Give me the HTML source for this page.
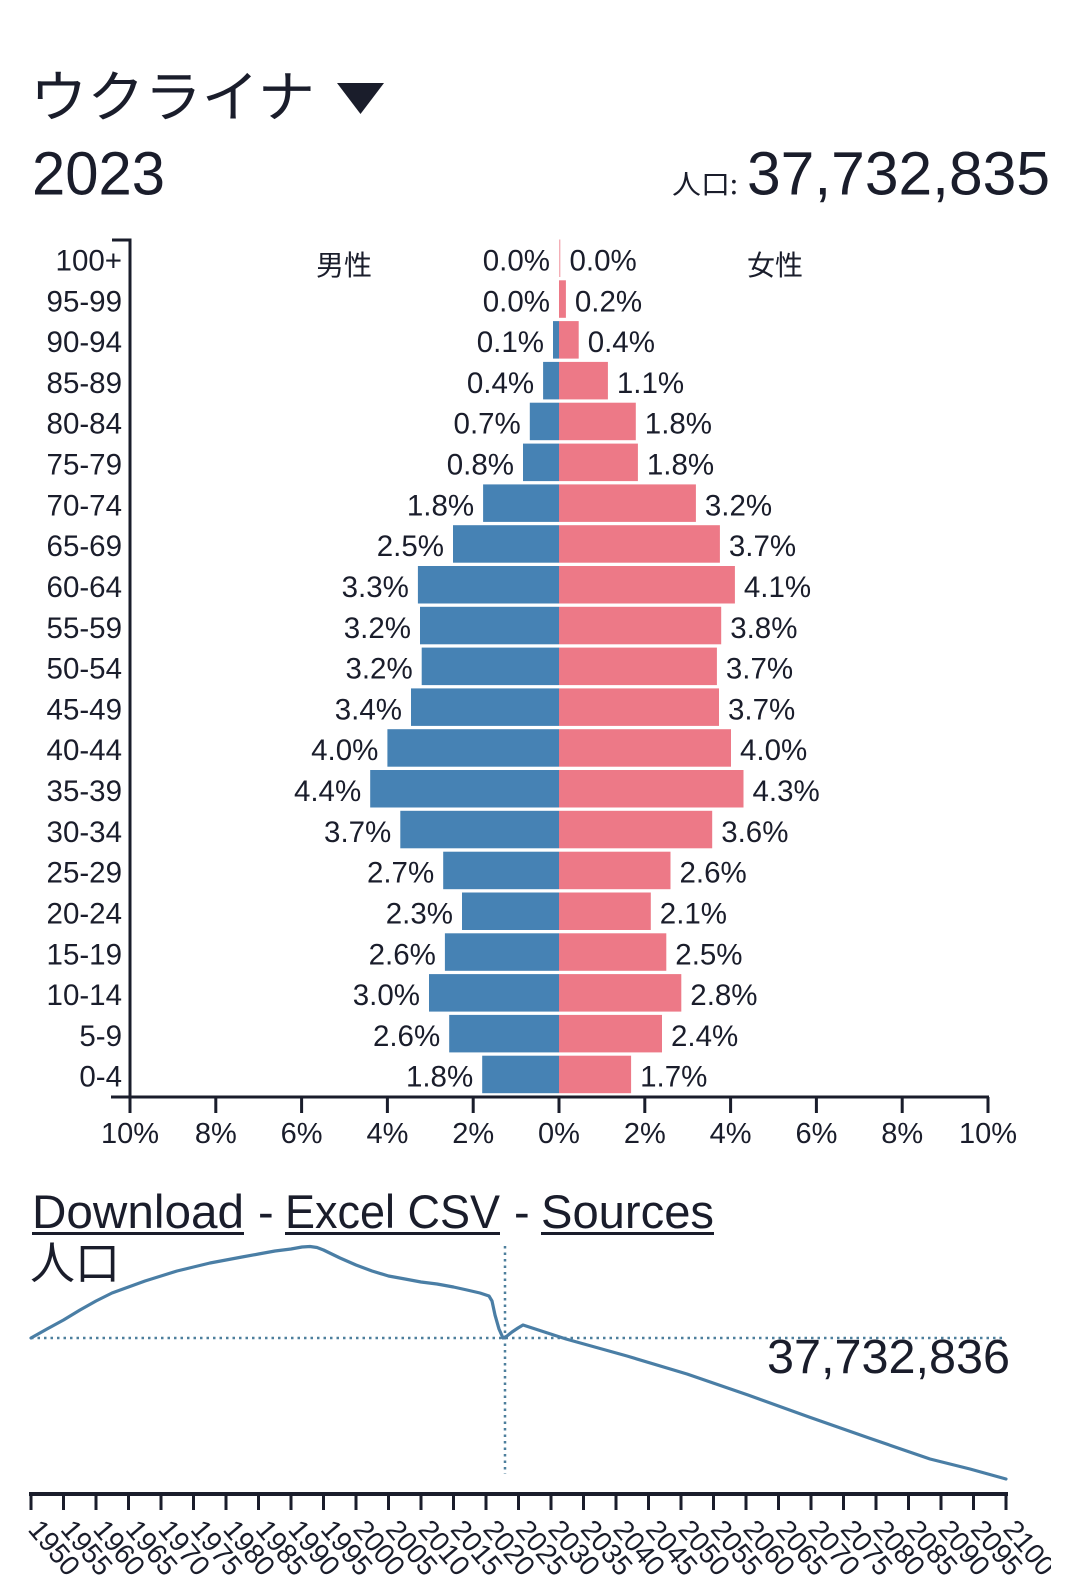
<!DOCTYPE html>
<html>
<head>
<meta charset="utf-8">
<style>
  html,body{margin:0;padding:0;background:#ffffff;}
  svg{display:block;}
  .t{font-family:"Liberation Sans","Noto Sans CJK JP",sans-serif;fill:#1a1d2b;}
  .j{font-family:"Noto Sans CJK JP","Liberation Sans",sans-serif;fill:#1a1d2b;}
</style>
</head>
<body>
<svg width="1080" height="1585" viewBox="0 0 1080 1585" xmlns="http://www.w3.org/2000/svg">
  <defs>
    <clipPath id="yc"><rect x="0" y="1500" width="1051" height="85"/></clipPath>
  </defs>
  <rect x="0" y="0" width="1080" height="1585" fill="#ffffff"/>

  <!-- Header -->
  <text class="j" x="30" y="117" font-size="56" textLength="285" lengthAdjust="spacingAndGlyphs">ウクライナ</text>
  <polygon points="337,83 384,83 360.5,114" fill="#1a1d2b"/>
  <text class="t" x="32" y="194.5" font-size="61" textLength="133" lengthAdjust="spacingAndGlyphs">2023</text>
  <text class="j" x="672" y="194" font-size="27" textLength="66" lengthAdjust="spacingAndGlyphs">人口:</text>
  <text class="t" x="747" y="194.5" font-size="61" textLength="303" lengthAdjust="spacingAndGlyphs">37,732,835</text>

  <!-- Pyramid bars: male -->
  <g fill="#4682b4">
    <rect x="553.0" y="321.1" width="6.0" height="37.5"/>
    <rect x="543.1" y="361.9" width="15.9" height="37.5"/>
    <rect x="529.8" y="402.7" width="29.2" height="37.5"/>
    <rect x="523.0" y="443.6" width="36.0" height="37.5"/>
    <rect x="483.1" y="484.4" width="75.9" height="37.5"/>
    <rect x="453.0" y="525.2" width="106.0" height="37.5"/>
    <rect x="417.9" y="566.0" width="141.1" height="37.5"/>
    <rect x="420.0" y="606.8" width="139.0" height="37.5"/>
    <rect x="421.7" y="647.6" width="137.3" height="37.5"/>
    <rect x="411.0" y="688.4" width="148.0" height="37.5"/>
    <rect x="387.4" y="729.2" width="171.6" height="37.5"/>
    <rect x="370.2" y="770.0" width="188.8" height="37.5"/>
    <rect x="400.3" y="810.8" width="158.7" height="37.5"/>
    <rect x="443.2" y="851.7" width="115.8" height="37.5"/>
    <rect x="462.0" y="892.5" width="97.0" height="37.5"/>
    <rect x="444.9" y="933.3" width="114.1" height="37.5"/>
    <rect x="429.0" y="974.1" width="130.0" height="37.5"/>
    <rect x="449.2" y="1014.9" width="109.8" height="37.5"/>
    <rect x="482.2" y="1055.7" width="76.8" height="37.5"/>
  </g>
  <!-- Pyramid bars: female -->
  <g fill="#ed7987">
    <rect x="559" y="239.5" width="1.4" height="37.5" opacity="0.6"/>
    <rect x="559" y="280.3" width="6.9" height="37.5"/>
    <rect x="559" y="321.1" width="19.7" height="37.5"/>
    <rect x="559" y="361.9" width="48.9" height="37.5"/>
    <rect x="559" y="402.7" width="76.8" height="37.5"/>
    <rect x="559" y="443.6" width="78.9" height="37.5"/>
    <rect x="559" y="484.4" width="136.9" height="37.5"/>
    <rect x="559" y="525.2" width="160.9" height="37.5"/>
    <rect x="559" y="566.0" width="175.9" height="37.5"/>
    <rect x="559" y="606.8" width="162.2" height="37.5"/>
    <rect x="559" y="647.6" width="157.9" height="37.5"/>
    <rect x="559" y="688.4" width="160.0" height="37.5"/>
    <rect x="559" y="729.2" width="172.0" height="37.5"/>
    <rect x="559" y="770.0" width="184.5" height="37.5"/>
    <rect x="559" y="810.8" width="153.2" height="37.5"/>
    <rect x="559" y="851.7" width="111.5" height="37.5"/>
    <rect x="559" y="892.5" width="91.8" height="37.5"/>
    <rect x="559" y="933.3" width="107.3" height="37.5"/>
    <rect x="559" y="974.1" width="122.3" height="37.5"/>
    <rect x="559" y="1014.9" width="103.0" height="37.5"/>
    <rect x="559" y="1055.7" width="72.1" height="37.5"/>
  </g>

  <!-- Male / Female headings -->
  <text class="j" x="316" y="275" font-size="28">男性</text>
  <text class="j" x="747" y="275" font-size="28">女性</text>

  <!-- Male value labels -->
  <g class="t" font-size="29.5" text-anchor="end">
    <text x="550" y="270.5">0.0%</text>
    <text x="550" y="311.3">0.0%</text>
    <text x="544" y="352.1">0.1%</text>
    <text x="534.1" y="392.9">0.4%</text>
    <text x="520.8" y="433.7">0.7%</text>
    <text x="514" y="474.6">0.8%</text>
    <text x="474.1" y="515.4">1.8%</text>
    <text x="444" y="556.2">2.5%</text>
    <text x="408.9" y="597.0">3.3%</text>
    <text x="411" y="637.8">3.2%</text>
    <text x="412.7" y="678.6">3.2%</text>
    <text x="402" y="719.4">3.4%</text>
    <text x="378.4" y="760.2">4.0%</text>
    <text x="361.2" y="801.0">4.4%</text>
    <text x="391.3" y="841.8">3.7%</text>
    <text x="434.2" y="882.7">2.7%</text>
    <text x="453" y="923.5">2.3%</text>
    <text x="435.9" y="964.3">2.6%</text>
    <text x="420" y="1005.1">3.0%</text>
    <text x="440.2" y="1045.9">2.6%</text>
    <text x="473.2" y="1086.7">1.8%</text>
  </g>
  <!-- Female value labels -->
  <g class="t" font-size="29.5" text-anchor="start">
    <text x="569.5" y="270.5">0.0%</text>
    <text x="574.9" y="311.3">0.2%</text>
    <text x="587.7" y="352.1">0.4%</text>
    <text x="616.9" y="392.9">1.1%</text>
    <text x="644.8" y="433.7">1.8%</text>
    <text x="646.9" y="474.6">1.8%</text>
    <text x="704.9" y="515.4">3.2%</text>
    <text x="728.9" y="556.2">3.7%</text>
    <text x="743.9" y="597.0">4.1%</text>
    <text x="730.2" y="637.8">3.8%</text>
    <text x="725.9" y="678.6">3.7%</text>
    <text x="728" y="719.4">3.7%</text>
    <text x="740" y="760.2">4.0%</text>
    <text x="752.5" y="801.0">4.3%</text>
    <text x="721.2" y="841.8">3.6%</text>
    <text x="679.5" y="882.7">2.6%</text>
    <text x="659.8" y="923.5">2.1%</text>
    <text x="675.3" y="964.3">2.5%</text>
    <text x="690.3" y="1005.1">2.8%</text>
    <text x="671" y="1045.9">2.4%</text>
    <text x="640.1" y="1086.7">1.7%</text>
  </g>

  <!-- Age labels -->
  <g class="t" font-size="29.5" text-anchor="end">
    <text x="122" y="270.5">100+</text>
    <text x="122" y="311.3">95-99</text>
    <text x="122" y="352.1">90-94</text>
    <text x="122" y="392.9">85-89</text>
    <text x="122" y="433.7">80-84</text>
    <text x="122" y="474.6">75-79</text>
    <text x="122" y="515.4">70-74</text>
    <text x="122" y="556.2">65-69</text>
    <text x="122" y="597.0">60-64</text>
    <text x="122" y="637.8">55-59</text>
    <text x="122" y="678.6">50-54</text>
    <text x="122" y="719.4">45-49</text>
    <text x="122" y="760.2">40-44</text>
    <text x="122" y="801.0">35-39</text>
    <text x="122" y="841.8">30-34</text>
    <text x="122" y="882.7">25-29</text>
    <text x="122" y="923.5">20-24</text>
    <text x="122" y="964.3">15-19</text>
    <text x="122" y="1005.1">10-14</text>
    <text x="122" y="1045.9">5-9</text>
    <text x="122" y="1086.7">0-4</text>
  </g>

  <!-- Pyramid axes -->
  <g stroke="#1a1d2b" stroke-width="3" fill="none">
    <path d="M112,240 H130 V1097"/>
    <path d="M111,1097 H989"/>
    <path d="M130,1097 V1113 M215.8,1097 V1113 M301.6,1097 V1113 M387.4,1097 V1113 M473.2,1097 V1113 M559,1097 V1113 M644.8,1097 V1113 M730.6,1097 V1113 M816.4,1097 V1113 M902.2,1097 V1113 M988,1097 V1113"/>
  </g>
  <g class="t" font-size="29" text-anchor="middle">
    <text x="130" y="1143">10%</text>
    <text x="215.8" y="1143">8%</text>
    <text x="301.6" y="1143">6%</text>
    <text x="387.4" y="1143">4%</text>
    <text x="473.2" y="1143">2%</text>
    <text x="559" y="1143">0%</text>
    <text x="644.8" y="1143">2%</text>
    <text x="730.6" y="1143">4%</text>
    <text x="816.4" y="1143">6%</text>
    <text x="902.2" y="1143">8%</text>
    <text x="988" y="1143">10%</text>
  </g>

  <!-- Links -->
  <g class="t" font-size="47">
    <text x="32" y="1228" textLength="212" lengthAdjust="spacingAndGlyphs">Download</text>
    <text x="258" y="1228">-</text>
    <text x="285" y="1228" textLength="215" lengthAdjust="spacingAndGlyphs">Excel CSV</text>
    <text x="514" y="1228">-</text>
    <text x="541" y="1228" textLength="173" lengthAdjust="spacingAndGlyphs">Sources</text>
  </g>
  <g fill="#1a1d2b">
    <rect x="32" y="1232" width="212" height="3"/>
    <rect x="285" y="1232" width="215" height="3"/>
    <rect x="541" y="1232" width="173" height="3"/>
  </g>

  <!-- Population line chart -->
  <text class="j" x="30" y="1279" font-size="45">人口</text>

  <g stroke="#4d7f9c" stroke-width="2.5" stroke-dasharray="2.5,4" fill="none">
    <line x1="31" y1="1338" x2="1006" y2="1338"/>
    <line x1="505" y1="1246" x2="505" y2="1474"/>
  </g>

  <polyline fill="none" stroke="#4a7ea5" stroke-width="3.2" stroke-linejoin="round" stroke-linecap="round"
    points="31,1338 47,1329 63.5,1320 80,1310 96,1301 112,1293 128.5,1287 145,1281 161,1276 177,1271 193.5,1267 210,1263 226,1260 242,1257 258.5,1254 275,1251 291,1249 302,1247 310,1246.5 317,1247.5 323.5,1250 340,1258 356,1265 372,1271 388.5,1276 405,1279 421,1282 437,1284 453.5,1287 467,1290 480,1293 489,1296 492,1301 495,1315 499,1329 503,1338 507,1336 512,1332 518,1328 523,1325 566,1339 627,1356 687,1374 748,1395 809,1417 869,1438 930,1459 970,1469 1006,1479"/>

  <text class="t" x="1010" y="1373" font-size="48" text-anchor="end" textLength="243" lengthAdjust="spacingAndGlyphs">37,732,836</text>

  <!-- Bottom time axis -->
  <g stroke="#1a1d2b" fill="none">
    <path d="M29,1494 H1008" stroke-width="4"/>
    <path stroke-width="3" d="M31,1494V1510 M63.5,1494V1510 M96,1494V1510 M128.5,1494V1510 M161,1494V1510 M193.5,1494V1510 M226,1494V1510 M258.5,1494V1510 M291,1494V1510 M323.5,1494V1510 M356,1494V1510 M388.5,1494V1510 M421,1494V1510 M453.5,1494V1510 M486,1494V1510 M518.5,1494V1510 M551,1494V1510 M583.5,1494V1510 M616,1494V1510 M648.5,1494V1510 M681,1494V1510 M713.5,1494V1510 M746,1494V1510 M778.5,1494V1510 M811,1494V1510 M843.5,1494V1510 M876,1494V1510 M908.5,1494V1510 M941,1494V1510 M973.5,1494V1510 M1006,1494V1510"/>
  </g>
  <g class="t" font-size="28" clip-path="url(#yc)">
    <text transform="translate(27,1530) rotate(50)">1950</text>
    <text transform="translate(59.5,1530) rotate(50)">1955</text>
    <text transform="translate(92,1530) rotate(50)">1960</text>
    <text transform="translate(124.5,1530) rotate(50)">1965</text>
    <text transform="translate(157,1530) rotate(50)">1970</text>
    <text transform="translate(189.5,1530) rotate(50)">1975</text>
    <text transform="translate(222,1530) rotate(50)">1980</text>
    <text transform="translate(254.5,1530) rotate(50)">1985</text>
    <text transform="translate(287,1530) rotate(50)">1990</text>
    <text transform="translate(319.5,1530) rotate(50)">1995</text>
    <text transform="translate(352,1530) rotate(50)">2000</text>
    <text transform="translate(384.5,1530) rotate(50)">2005</text>
    <text transform="translate(417,1530) rotate(50)">2010</text>
    <text transform="translate(449.5,1530) rotate(50)">2015</text>
    <text transform="translate(482,1530) rotate(50)">2020</text>
    <text transform="translate(514.5,1530) rotate(50)">2025</text>
    <text transform="translate(547,1530) rotate(50)">2030</text>
    <text transform="translate(579.5,1530) rotate(50)">2035</text>
    <text transform="translate(612,1530) rotate(50)">2040</text>
    <text transform="translate(644.5,1530) rotate(50)">2045</text>
    <text transform="translate(677,1530) rotate(50)">2050</text>
    <text transform="translate(709.5,1530) rotate(50)">2055</text>
    <text transform="translate(742,1530) rotate(50)">2060</text>
    <text transform="translate(774.5,1530) rotate(50)">2065</text>
    <text transform="translate(807,1530) rotate(50)">2070</text>
    <text transform="translate(839.5,1530) rotate(50)">2075</text>
    <text transform="translate(872,1530) rotate(50)">2080</text>
    <text transform="translate(904.5,1530) rotate(50)">2085</text>
    <text transform="translate(937,1530) rotate(50)">2090</text>
    <text transform="translate(969.5,1530) rotate(50)">2095</text>
    <text transform="translate(1002,1530) rotate(50)">2100</text>
  </g>
</svg>
</body>
</html>
